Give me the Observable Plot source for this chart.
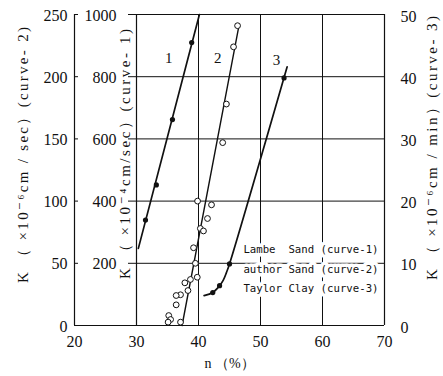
<!DOCTYPE html>
<html><head><meta charset="utf-8">
<script src="https://cdn.jsdelivr.net/npm/d3@7"></script>
<script src="https://cdn.jsdelivr.net/npm/@observablehq/plot@0.6"></script>
<style>body{margin:0;background:#fff}</style>
</head><body><div id="chart"></div>
<script>
// ---- axes / ticks ----
const nTicks  = [20, 30, 40, 50, 60, 70];          // porosity n (%)
const k2Ticks = [0, 50, 100, 150, 200, 250];       // curve-2 axis (x10^-6 cm/sec)
const k1Ticks = [200, 400, 600, 800, 1000];        // curve-1 axis (x10^-4 cm/sec)
const k3Ticks = [0, 10, 20, 30, 40, 50];           // curve-3 axis (x10^-6 cm/min)
const gridN   = [40, 50, 60];
const frameN  = [30, 70];
const innerAxisN = 30;

// ---- curve 1 : Lambe Sand (K x10^-4 cm/sec) ----
const c1DotN  = [31.45, 33.2, 35.8, 38.9];
const c1DotK  = [339, 452, 662, 910];
const c1LineN = [30.3, 40.15];
const c1LineK = [248, 1000];

// ---- curve 2 : author Sand (K x10^-6 cm/sec) ----
const c2DotN  = [46.3, 45.65, 44.5, 43.9, 39.85, 42.1, 41.45, 40.3, 40.8, 39.2, 39.5, 37.8, 38.7, 39.8, 38.3, 37.1, 36.4, 36.4, 35.2, 35.5, 35.1, 37.1];
const c2DotK  = [241, 224, 178, 147, 100, 97, 86, 78, 76, 62.5, 50, 34.3, 37, 38.8, 28.1, 24.7, 24.1, 16.6, 8, 4.8, 2.7, 2.7];
const c2LineN = [37.35, 46.45];
const c2LineK = [0, 239];

// ---- curve 3 : Taylor Clay (K x10^-6 cm/min) ----
const c3DotN  = [42.3, 43.4, 45.0, 53.8];
const c3DotK  = [5.3, 6.4, 9.9, 39.8];
const c3LineN = [40.9, 42.3, 43.4, 44.0, 44.5, 45.0, 54.3];
const c3LineK = [4.8, 5.3, 6.4, 7.3, 8.5, 9.9, 41.6];

// ---- text ----
const curveNames  = ["1", "2", "3"];
const curveLabelN = [35.2, 43.1, 52.6];
const curveLabelK2 = [215, 215, 213];
const legendLines = ["Lambe  Sand (curve-1)", "author Sand (curve-2)", "Taylor Clay (curve-3)"];
const leftLabel  = "K （ ×10⁻⁶cm / sec）(curve- 2)";
const innerLabel = "K （ ×10⁻⁴cm/sec）(curve- 1)";
const rightLabel = "K （ ×10⁻⁶cm / min）(curve- 3)";
const xLabel = "n （%）";

// common scale = curve-2 units
const k1PerK2 = k1Ticks[k1Ticks.length - 1] / k2Ticks[k2Ticks.length - 1];
const k3PerK2 = k3Ticks[k3Ticks.length - 1] / k2Ticks[k2Ticks.length - 1];
const zip = (a, b) => a.map((v, i) => ({n: v, k: b[i]}));

const ink = "#111";
const serif = "'Liberation Serif', 'DejaVu Serif', serif";

const chart = Plot.plot({
  width: 443, height: 376,
  marginLeft: 74, marginRight: 59, marginTop: 14, marginBottom: 51,
  x: {domain: [nTicks[0], nTicks[nTicks.length - 1]]},
  y: {domain: [k2Ticks[0], k2Ticks[k2Ticks.length - 1]]},
  style: {fontFamily: serif, fontSize: "16px", color: ink, background: "white"},
  marks: [
    // grid & frame
    Plot.ruleX(gridN, {stroke: ink, strokeWidth: 1}),
    Plot.ruleX(frameN, {stroke: ink, strokeWidth: 1.2}),
    Plot.ruleY(k1Ticks.map(k => k / k1PerK2), {x1: frameN[0], x2: frameN[1], stroke: ink, strokeWidth: 1}),
    Plot.ruleX([nTicks[0]], {stroke: ink, strokeWidth: 1.2}),
    Plot.ruleY([k2Ticks[0]], {stroke: ink, strokeWidth: 1.2}),
    // outer-left inward ticks
    Plot.ruleY(k2Ticks.slice(1), {x1: nTicks[0], x2: nTicks[0], insetRight: -4, stroke: ink}),
    // inner axis ticks + labels
    Plot.ruleY(k1Ticks.map(k => k / k1PerK2), {x1: innerAxisN, x2: innerAxisN, insetLeft: -8, stroke: ink}),
    Plot.text(k1Ticks, {x: () => innerAxisN, y: k => k / k1PerK2, text: k => String(k), textAnchor: "end", dx: -20, dy: 1}),
    // axes
    Plot.axisX(nTicks, {anchor: "bottom", tickSize: 0, tickPadding: 10, label: null}),
    Plot.axisY(k2Ticks, {anchor: "left", tickSize: 0, tickPadding: 7, label: null, dy: 1}),
    Plot.axisY(k3Ticks.map(k => k / k3PerK2), {anchor: "right", tickSize: 0, tickPadding: 16, label: null, dy: 2,
      tickFormat: d => String(Math.round(d * k3PerK2))}),
    // curves
    Plot.line(zip(c1LineN, c1LineK), {x: "n", y: d => d.k / k1PerK2, stroke: ink, strokeWidth: 1.7}),
    Plot.dot(zip(c1DotN, c1DotK), {x: "n", y: d => d.k / k1PerK2, r: 2.6, fill: ink}),
    Plot.line(zip(c2LineN, c2LineK), {x: "n", y: "k", stroke: ink, strokeWidth: 1.4}),
    Plot.dot(zip(c2DotN, c2DotK), {x: "n", y: "k", r: 2.9, fill: "white", stroke: ink, strokeWidth: 1}),
    Plot.line(zip(c3LineN, c3LineK), {x: "n", y: d => d.k / k3PerK2, curve: "catmull-rom", stroke: ink, strokeWidth: 1.7}),
    Plot.dot(zip(c3DotN, c3DotK), {x: "n", y: d => d.k / k3PerK2, r: 2.6, fill: ink}),
    // curve numbers
    Plot.text(curveNames, {x: (d, i) => curveLabelN[i], y: (d, i) => curveLabelK2[i], text: d => d, fontSize: 15}),
    // legend
    Plot.text([legendLines.join("\n")], {frameAnchor: "bottom-right", text: d => d, textAnchor: "end",
      lineAnchor: "middle", lineHeight: 1.82, dx: -6, dy: -59,
      fontFamily: "'DejaVu Sans Mono', monospace", fontSize: 10.7,
      fill: ink, stroke: "white", strokeWidth: 7}),
    // axis titles
    Plot.text([leftLabel], {frameAnchor: "left", textAnchor: "middle", text: d => d, rotate: -90, dx: -51, dy: -15, fontSize: 15}),
    Plot.text([innerLabel], {frameAnchor: "left", textAnchor: "middle", text: d => d, rotate: -90, dx: 51, dy: -16, fontSize: 15}),
    Plot.text([rightLabel], {frameAnchor: "right", textAnchor: "middle", text: d => d, rotate: -90, dx: 48, dy: -22, fontSize: 15}),
    Plot.text([xLabel], {frameAnchor: "bottom", textAnchor: "middle", text: d => d, dy: 42, fontSize: 14})
  ]
});

const lengths = new Map([[leftLabel, 256], [innerLabel, 250], [rightLabel, 264]]);
d3.select(chart).selectAll("text").each(function () {
  const L = lengths.get(this.textContent);
  if (L) d3.select(this).attr("textLength", L).attr("lengthAdjust", "spacing");
});
document.getElementById("chart").appendChild(chart);
</script>
</body></html>
